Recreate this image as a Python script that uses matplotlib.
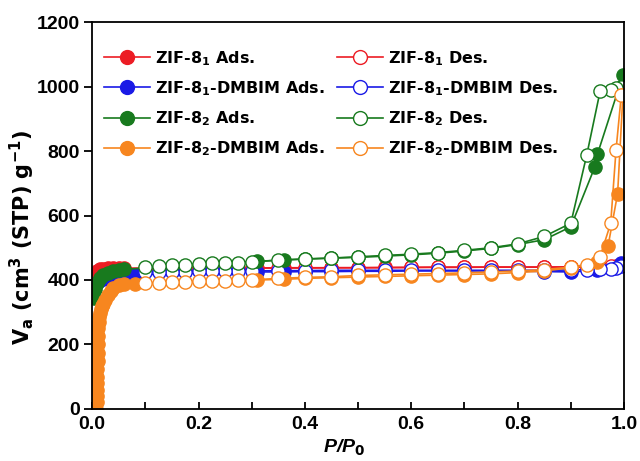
import matplotlib as mpl
import matplotlib.pyplot as plt
import numpy as np

mpl.rcParams['font.family'] = 'Liberation Sans'
mpl.rcParams['font.weight'] = 'bold'
mpl.rcParams['axes.labelweight'] = 'bold'
mpl.rcParams['mathtext.fontset'] = 'custom'
mpl.rcParams['mathtext.rm'] = 'DejaVu Sans:bold'
mpl.rcParams['mathtext.it'] = 'DejaVu Sans:bold:italic'
mpl.rcParams['mathtext.bf'] = 'DejaVu Sans:bold'
mpl.rcParams['mathtext.default'] = 'bf'

# ---- data ----
# plateau grid shared by most adsorption branches
p_plat = [0.31, 0.36, 0.40, 0.45, 0.50, 0.55, 0.60, 0.65, 0.70, 0.75,
          0.80, 0.85, 0.90]
# desorption grid
p_des = [0.995, 0.985, 0.975, 0.955, 0.93, 0.90, 0.85, 0.80, 0.75, 0.70,
         0.65, 0.60, 0.55, 0.50, 0.45, 0.40, 0.35, 0.30, 0.275, 0.25,
         0.225, 0.20, 0.175, 0.15, 0.125, 0.10]

# ZIF-8_1
zif81_ads_p = [0.006, 0.01, 0.015, 0.02, 0.03, 0.04, 0.05, 0.06] + p_plat + [0.95, 0.995]
zif81_ads = [410, 428, 433, 435, 436, 437, 437, 437,
             437, 438, 438, 438, 438, 439, 439, 440, 440, 440, 440, 440, 441,
             441, 445]
zif81_des = [445, 443, 442, 441, 441, 440, 440, 440, 440, 439,
             439, 439, 438, 438, 438, 437, 437, 437, 436, 436,
             436, 436, 435, 435, 435, 434]

# ZIF-8_1-DMBIM
dmb1_ads_p = [0.004, 0.008, 0.012, 0.02, 0.03, 0.04, 0.05, 0.06, 0.08] + p_plat + [0.95, 0.995]
dmb1_ads = [372, 388, 396, 402, 407, 410, 412, 414, 416,
            425, 425, 426, 426, 427, 427, 428, 428, 428, 428, 428, 426, 425,
            430, 452]
dmb1_des = [442, 438, 435, 433, 432, 431, 430, 430, 430, 430,
            430, 430, 430, 430, 430, 429, 429, 428, 428, 428,
            427, 427, 426, 426, 425, 425]

# ZIF-8_2
zif82_ads_p = [0.003, 0.006, 0.01, 0.015, 0.02, 0.03, 0.04, 0.05, 0.06] + p_plat + [0.945, 0.95, 0.998]
zif82_ads = [345, 372, 392, 405, 414, 422, 428, 431, 433,
             458, 462, 465, 468, 470, 474, 478, 483, 490, 498, 510, 525, 565,
             750, 790, 1035]
zif82_des = [1000, 995, 990, 985, 788, 576, 535, 512, 500, 492,
             485, 480, 476, 472, 468, 465, 462, 455, 454, 453,
             452, 450, 448, 446, 443, 440]

# ZIF-8_2-DMBIM
dmb2_ads_p = [0.008, 0.0083, 0.0086, 0.0089, 0.0092, 0.0095, 0.0098, 0.0101,
              0.0104, 0.0107, 0.011, 0.0115, 0.012, 0.013, 0.014, 0.016, 0.018,
              0.02, 0.025, 0.03, 0.035, 0.04, 0.05, 0.06, 0.08] + p_plat + [0.95, 0.97, 0.988, 0.998]
dmb2_ads = [0, 20, 40, 60, 80, 100, 125, 150,
            175, 200, 225, 250, 270, 285, 298, 310, 318,
            325, 338, 352, 366, 376, 383, 386, 388,
            400, 402, 405, 407, 409, 411, 413, 415, 417, 419, 423, 428, 438,
            455, 505, 668, 975]
dmb2_des = [975, 803, 576, 472, 448, 440, 432, 428, 425, 422,
            420, 418, 416, 414, 410, 408, 405, 400, 399, 398,
            397, 396, 395, 393, 391, 390]

series = [
    ('ZIF-8$_1$ Ads.', zif81_ads_p, zif81_ads, 'ZIF-8$_1$ Des.', zif81_des, '#ec1c24'),
    ('ZIF-8$_1$-DMBIM Ads.', dmb1_ads_p, dmb1_ads, 'ZIF-8$_1$-DMBIM Des.', dmb1_des, '#1a1ae6'),
    ('ZIF-8$_2$ Ads.', zif82_ads_p, zif82_ads, 'ZIF-8$_2$ Des.', zif82_des, '#187a1e'),
    ('ZIF-8$_2$-DMBIM Ads.', dmb2_ads_p, dmb2_ads, 'ZIF-8$_2$-DMBIM Des.', dmb2_des, '#f7861f'),
]

fig = plt.figure(figsize=(6.4, 4.61), dpi=100)
ax = fig.add_axes([0.144, 0.113, 0.831, 0.839])

ads_handles, des_handles = [], []
for lab_a, pa, ya, lab_d, yd, c in series:
    h1, = ax.plot(pa, ya, '-o', color=c, mfc=c, mec=c, ms=9.5, lw=1.2, label=lab_a)
    h2, = ax.plot(p_des, yd, '-o', color=c, mfc='white', mec=c, ms=9.5, lw=1.2, label=lab_d)
    ads_handles.append(h1)
    des_handles.append(h2)

ax.set_xlim(0, 1.0)
ax.set_ylim(0, 1200)
ax.set_xticks(np.arange(0, 1.01, 0.2))
ax.set_xticks(np.arange(0.1, 1.0, 0.2), minor=True)
ax.set_yticks(np.arange(0, 1201, 200))
ax.set_xticklabels(['0.0', '0.2', '0.4', '0.6', '0.8', '1.0'])
ax.tick_params(axis='x', which='both', direction='in', length=5, width=1.3, labelsize=14, pad=5)
ax.tick_params(axis='y', which='both', direction='out', length=6, width=1.3, labelsize=14, pad=3)
for s in ax.spines.values():
    s.set_linewidth(1.3)

ax.set_xlabel('P/P$_\\mathbf{0}$', fontsize=14, fontstyle='italic')
ax.xaxis.set_label_coords(0.474, -0.075)
ax.set_ylabel('V$_\\mathbf{a}$ (cm$^\\mathbf{3}$ (STP) g$^\\mathbf{-1}$)', fontsize=15,
              fontfamily='DejaVu Sans')
ax.yaxis.set_label_coords(-0.103, 0.442)

ax.legend(ads_handles + des_handles,
          [h.get_label() for h in ads_handles + des_handles],
          ncol=2, loc='upper left', bbox_to_anchor=(-0.005, 0.968), frameon=False,
          prop={'family': 'DejaVu Sans', 'weight': 'bold', 'size': 11.5},
          handlelength=2.9, handletextpad=0.3, columnspacing=0.75,
          labelspacing=0.72, markerscale=1.05)

fig.savefig('out.png', dpi=100)
